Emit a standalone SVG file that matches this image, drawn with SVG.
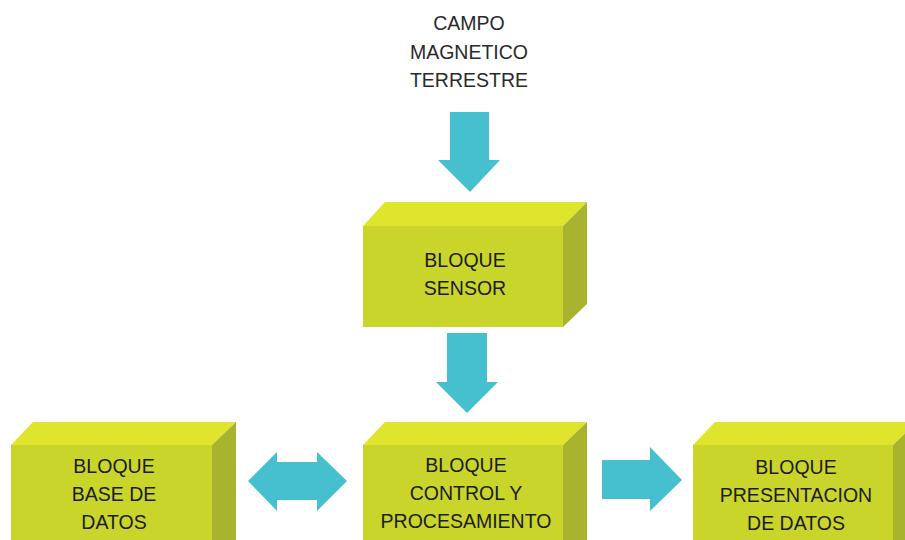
<svg xmlns="http://www.w3.org/2000/svg" width="905" height="540" viewBox="0 0 905 540">
<style>
.front{fill:#c9d52b}
.top{fill:#dfe42c}
.side{fill:#a8b42e}
.arrow{fill:#46c0cf}
.lbl{font-family:"Liberation Sans",Arial,sans-serif;font-size:19.5px;fill:#1c1c1c;text-anchor:middle}
.src{font-family:"Liberation Sans",Arial,sans-serif;font-size:19.5px;fill:#2a2a2a;text-anchor:middle}
</style>
<rect width="905" height="540" fill="#ffffff"/>
<g id="campo">
<text class="src" x="469" y="30">CAMPO</text>
<text class="src" x="469" y="59">MAGNETICO</text>
<text class="src" x="469" y="87">TERRESTRE</text>
</g>
<g id="connectors">
<polygon class="arrow" points="450,112 489,112 489,160 500,160 470,192 438,160 450,160"/>
<polygon class="arrow" points="447,333 487,333 487,382 498,382 467,413 436,382 447,382"/>
<polygon class="arrow" points="248,481 277,452 277,462 317,462 317,452 347,481 317,511 317,500 277,500 277,511"/>
<polygon class="arrow" points="602,460 650,460 650,447 682,480 650,511 650,499 602,499"/>
</g>
<g id="sensor">
<polygon class="top" points="363,226 385,202 587,202 563,226"/>
<polygon class="side" points="563,226 587,202 587,304 563,327"/>
<rect class="front" x="363" y="226" width="200" height="101"/>
<text class="lbl" x="465" y="267">BLOQUE</text>
<text class="lbl" x="465" y="295">SENSOR</text>
</g>
<g id="control">
<polygon class="top" points="363,445 385,422 587,422 563,445"/>
<polygon class="side" points="563,445 587,422 587,540 563,540"/>
<rect class="front" x="363" y="445" width="200" height="95"/>
<text class="lbl" x="466" y="472">BLOQUE</text>
<text class="lbl" x="466" y="500">CONTROL Y</text>
<text class="lbl" x="466" y="528">PROCESAMIENTO</text>
</g>
<g id="basedatos">
<polygon class="top" points="11,445 33,422 236,422 212,445"/>
<polygon class="side" points="212,445 236,422 236,540 212,540"/>
<rect class="front" x="11" y="445" width="201" height="95"/>
<text class="lbl" x="114" y="473">BLOQUE</text>
<text class="lbl" x="114" y="501">BASE DE</text>
<text class="lbl" x="114" y="529">DATOS</text>
</g>
<g id="presentacion">
<polygon class="top" points="693,445 715,422 917,422 893,445"/>
<polygon class="side" points="893,445 917,422 917,540 893,540"/>
<rect class="front" x="693" y="445" width="200" height="95"/>
<text class="lbl" x="796" y="474">BLOQUE</text>
<text class="lbl" x="796" y="502">PRESENTACION</text>
<text class="lbl" x="796" y="530">DE DATOS</text>
</g>
</svg>
